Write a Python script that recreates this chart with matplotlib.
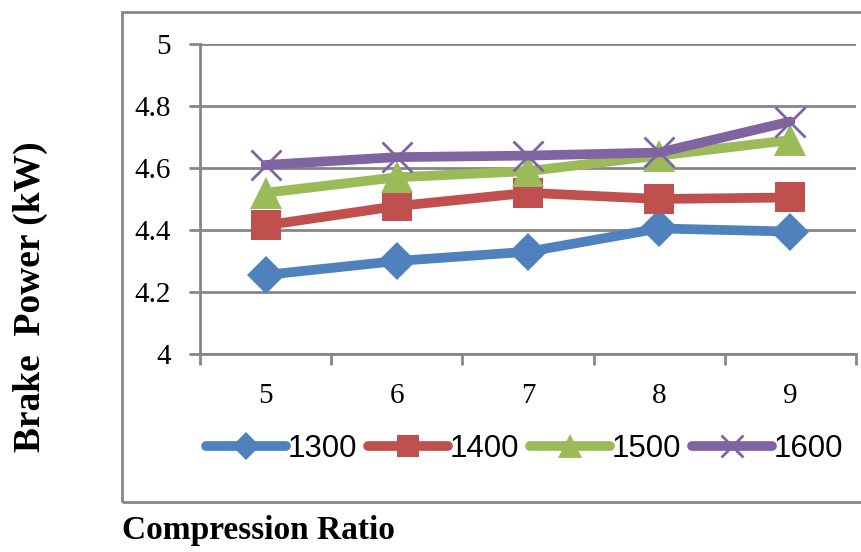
import matplotlib
matplotlib.use("Agg")
import matplotlib.pyplot as plt
from matplotlib.patches import Rectangle

# compression ratio vs brake power at four engine speeds (rpm)
ratios = [5, 6, 7, 8, 9]
speeds = ["1300", "1400", "1500", "1600"]
bp_1300 = [4.255, 4.30, 4.33, 4.405, 4.395]
bp_1400 = [4.415, 4.477, 4.52, 4.50, 4.505]
bp_1500 = [4.52, 4.57, 4.59, 4.64, 4.69]
bp_1600 = [4.61, 4.635, 4.64, 4.65, 4.75]
y_ticks = [4, 4.2, 4.4, 4.6, 4.8, 5]
y_ticklabels = ["4", "4.2", "4.4", "4.6", "4.8", "5"]

colors = ["#4F81BD", "#C0504D", "#9BBB59", "#8064A2"]
markers = ["D", "s", "^", "x"]
msizes = [19, 21, 23, 22]
grid_c = "#868686"

W, H = 861, 552
fig = plt.figure(figsize=(W / 100, H / 100), dpi=100)
ax = fig.add_axes([200 / W, (H - 354) / H, 656 / W, 310 / H])

series = [bp_1300, bp_1400, bp_1500, bp_1600]
for vals, lab, c, m, ms in zip(series, speeds, colors, markers, msizes):
    ax.plot(ratios, vals, color=c, lw=7, marker=m, ms=ms,
            mew=2 if m == "x" else 0, mec=c, label=lab,
            solid_capstyle="round", solid_joinstyle="round")

ax.set_xlim(4.5, 9.5)
ax.set_ylim(4, 5)
ax.set_yticks(y_ticks)
ax.set_yticklabels(y_ticklabels)
ax.set_xticks(ratios)
ax.set_xticks([4.5 + i for i in range(6)], minor=True)
ax.tick_params(axis="x", which="major", length=0, pad=21)
ax.tick_params(axis="x", which="minor", length=8, width=2, color=grid_c)
ax.tick_params(axis="y", length=8, width=2, color=grid_c, pad=13)
for t in ax.get_xticklabels() + ax.get_yticklabels():
    t.set_fontfamily("Liberation Serif")
    t.set_fontsize(21)

ax.grid(axis="y", color=grid_c, lw=2)
ax.set_axisbelow(True)
for s in ["top", "right"]:
    ax.spines[s].set_visible(False)
for s in ["left", "bottom"]:
    ax.spines[s].set_color(grid_c)
    ax.spines[s].set_linewidth(2)

leg = ax.legend(loc="center", bbox_to_anchor=(525 / W, 1 - 449 / H),
                bbox_transform=fig.transFigure, ncol=4, frameon=False,
                handlelength=2.55, handletextpad=0.06, columnspacing=0.35,
                markerscale=0.75, borderpad=0,
                prop={"family": "Liberation Sans", "size": 22.5})

# chart area border
fig.patches.append(Rectangle((122 / W, (H - 502) / H), 0.9, 490 / H,
                             transform=fig.transFigure, fill=False,
                             edgecolor=grid_c, lw=2))

fig.text(30 / W, 1 - 297 / H, "Brake  Power (kW)", rotation=90,
         ha="center", va="center", fontfamily="Liberation Serif",
         fontweight="bold", fontsize=27)
fig.text(122 / W, 1 - 531 / H, "Compression Ratio",
         ha="left", va="center", fontfamily="Liberation Serif",
         fontweight="bold", fontsize=24)

fig.savefig("out.png", dpi=100)
